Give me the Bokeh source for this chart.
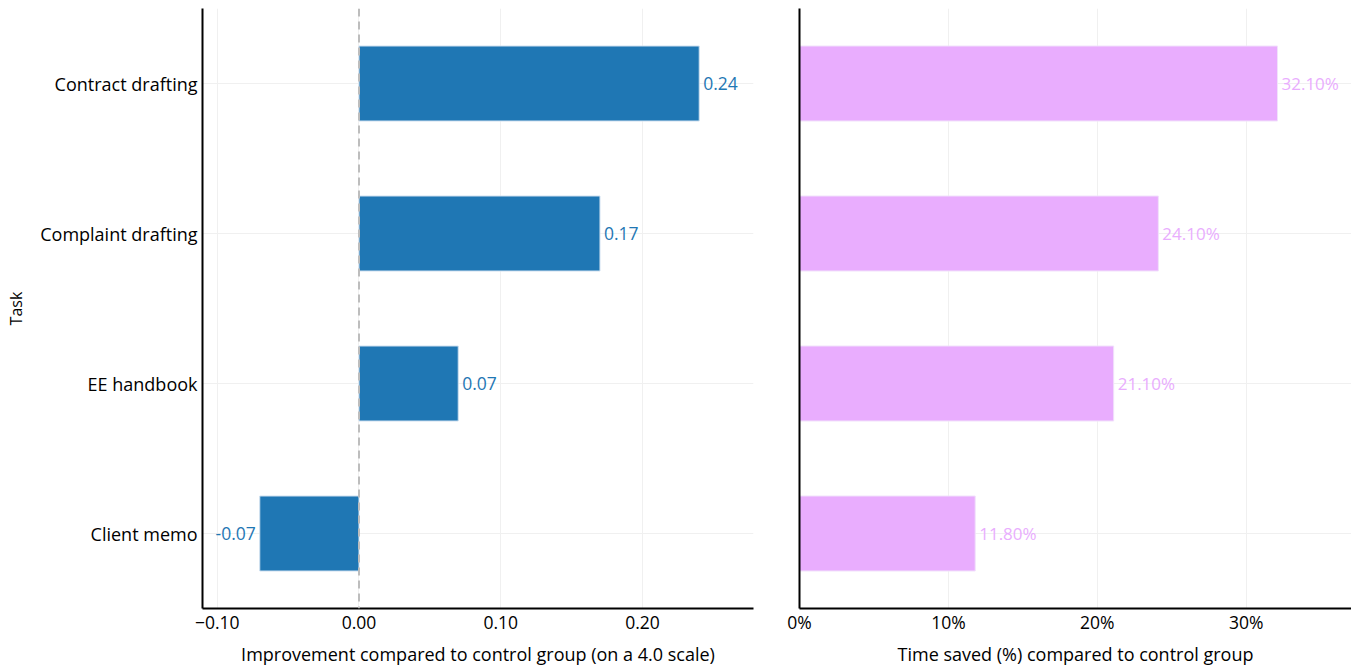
from bokeh.plotting import figure
from bokeh.layouts import row
from bokeh.models import ColumnDataSource, FactorRange, Range1d, FixedTicker, Span
from bokeh.core.properties import value
from bokeh.embed import file_html
from bokeh.resources import INLINE

tasks = ["Contract drafting", "Complaint drafting", "EE handbook", "Client memo"]
improvement = [0.24, 0.17, 0.07, -0.07]
time_saved = [0.321, 0.241, 0.211, 0.118]

left_ticks = [-0.1, 0.0, 0.1, 0.2]
left_tick_labels = ["\u22120.10", "0.00", "0.10", "0.20"]
right_ticks = [0.0, 0.1, 0.2, 0.3]
right_tick_labels = ["0%", "10%", "20%", "30%"]

FONT = "Open Sans"
BLUE = "#1f77b4"
VIOLET = "#e9adfe"

order = list(reversed(tasks))


def style(p, ticks, labels, tick_standoff, label_standoff):
    p.xaxis.ticker = FixedTicker(ticks=ticks)
    p.xaxis.major_label_overrides = {t: l for t, l in zip(ticks, labels)}
    for ax in (p.xaxis[0], p.yaxis[0]):
        ax.axis_line_color = "black"
        ax.axis_line_width = 2
        ax.major_tick_line_color = None
        ax.minor_tick_line_color = None
        ax.major_tick_out = 0
        ax.major_tick_in = 0
        ax.minor_tick_out = 0
        ax.minor_tick_in = 0
        ax.major_label_text_font = FONT
        ax.major_label_text_font_size = "17.5px"
        ax.major_label_text_color = "black"
        ax.axis_label_text_font = FONT
        ax.axis_label_text_font_size = "18px"
        ax.axis_label_text_font_style = "normal"
        ax.axis_label_text_color = "black"
    p.yaxis.major_label_text_font_size = "18px"
    p.xaxis.major_label_standoff = tick_standoff
    p.xaxis.axis_label_standoff = label_standoff
    p.yaxis.major_label_standoff = 5
    p.yaxis.axis_label_standoff = 10
    p.xgrid.grid_line_color = "#f0f0f0"
    p.ygrid.grid_line_color = "#f0f0f0"
    p.outline_line_color = None
    p.background_fill_color = "white"
    p.border_fill_color = "white"


# Left panel
src_l = ColumnDataSource(dict(
    task=tasks,
    val=improvement,
    lab=[f"{v:.2f}" for v in improvement],
    align=["left" if v >= 0 else "right" for v in improvement],
    off=[4 if v >= 0 else -4 for v in improvement],
))
p1 = figure(width=756, height=670, y_range=FactorRange(*order, range_padding=0),
            x_range=Range1d(-0.1104, 0.2783), output_backend="svg", toolbar_location=None,
            min_border_left=202, min_border_right=3, min_border_top=8, min_border_bottom=62)
p1.add_layout(Span(location=0, dimension="height", line_color="#bdbdbd",
                   line_width=2, line_dash="8 5"))
p1.hbar(y="task", left=0, right="val", height=0.5, source=src_l,
        fill_color=BLUE, line_color="#cfe0f0", line_width=1)
p1.text(x="val", y="task", text="lab", x_offset="off", text_align="align",
        text_baseline="middle", text_color=BLUE, text_font=value(FONT),
        text_font_size="17.5px", source=src_l)
style(p1, left_ticks, left_tick_labels, 7, 10)
p1.xaxis.axis_label = "Improvement compared to control group (on a 4.0 scale)"
p1.yaxis.axis_label = "Task"
p1.yaxis.axis_label_text_font_size = "16px"

# Right panel
src_r = ColumnDataSource(dict(
    task=tasks,
    val=time_saved,
    lab=[f"{v*100:.2f}%" for v in time_saved],
))
p2 = figure(width=595, height=670, y_range=p1.y_range,
            x_range=Range1d(0, 0.3707), output_backend="svg", toolbar_location=None,
            min_border_left=43, min_border_right=0, min_border_top=8, min_border_bottom=62)
p2.hbar(y="task", left=0, right="val", height=0.5, source=src_r,
        fill_color=VIOLET, line_color="#f1e2fb", line_width=1)
p2.text(x="val", y="task", text="lab", x_offset=4, text_align="left",
        text_baseline="middle", text_color=VIOLET, text_font=value(FONT),
        text_font_size="17px", source=src_r)
style(p2, right_ticks, right_tick_labels, 1, 5)
p2.yaxis.major_label_text_font_size = "0px"
p2.yaxis.major_label_text_color = None
p2.xaxis.axis_label = "Time saved (%) compared to control group"

layout = row(p1, p2, spacing=0)
open("out.html", "w").write(file_html(layout, INLINE))
